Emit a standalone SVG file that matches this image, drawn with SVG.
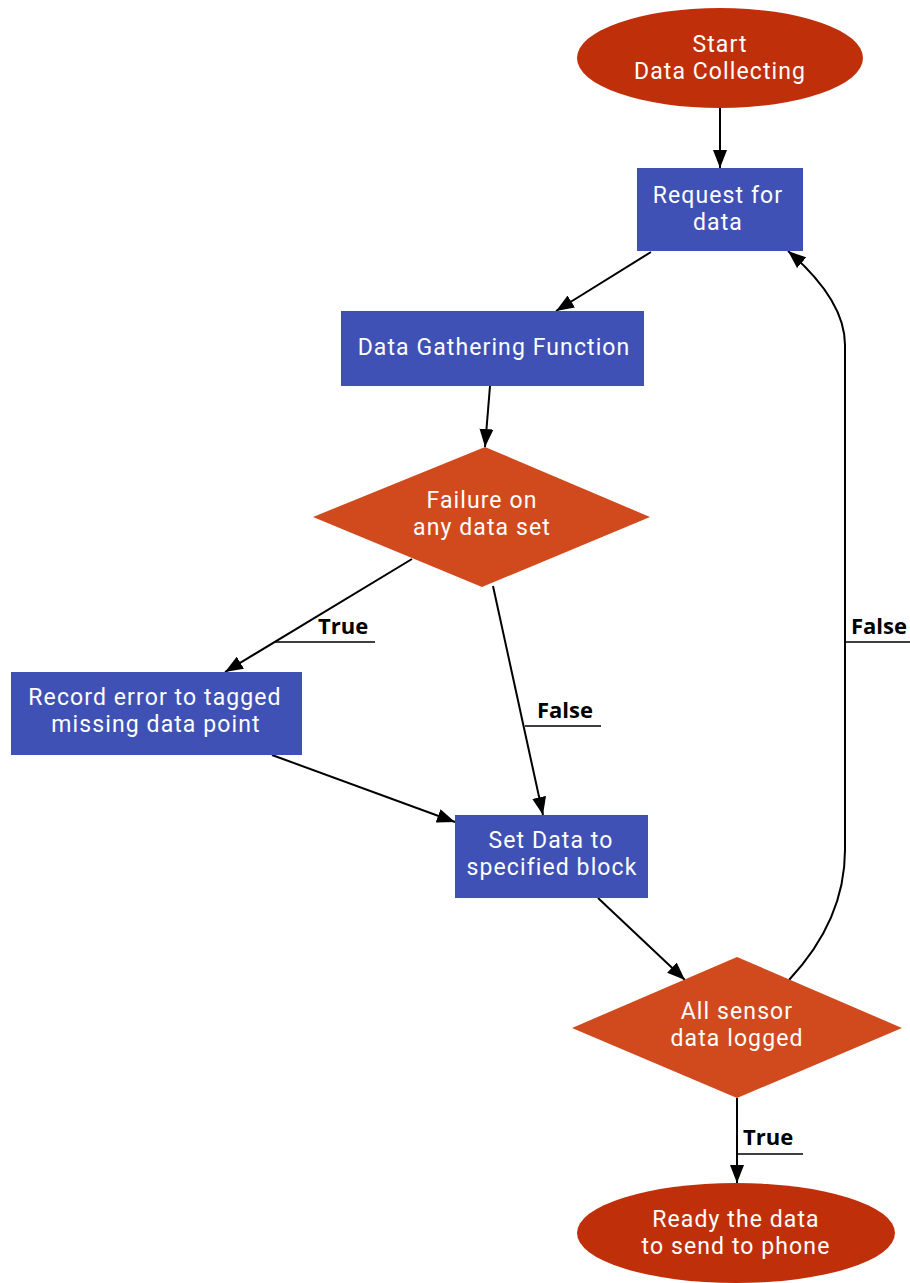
<svg xmlns="http://www.w3.org/2000/svg" width="910" height="1283" viewBox="0 0 910 1283">
<style>
.term{fill:#BF300A}
.dec{fill:#D14A1E}
.proc{fill:#3F51B5}
.t{font-family:Roboto,"Liberation Sans",sans-serif;font-size:23px;letter-spacing:1.1px;fill:#fff;text-anchor:middle}
.lbl{font-family:"Open Sans","Noto Sans",sans-serif;font-size:22px;font-weight:bold;fill:#000}
.e{fill:none;stroke:#000;stroke-width:2}
.u{stroke:#000;stroke-width:1.5}
</style>
<defs>
<marker id="ah" viewBox="0 0 18 14" refX="18" refY="7" markerWidth="18" markerHeight="14" markerUnits="userSpaceOnUse" orient="auto">
<path d="M0,0 L18,7 L0,14 z" fill="#000"/>
</marker>
</defs>
<rect width="910" height="1283" fill="#fff"/>
<g id="connectors">
<line class="e" x1="720" y1="108" x2="720" y2="168" marker-end="url(#ah)"/>
<line class="e" x1="651" y1="252" x2="556" y2="311" marker-end="url(#ah)"/>
<line class="e" x1="490" y1="386" x2="485" y2="447" marker-end="url(#ah)"/>
<line class="e" x1="412" y1="559" x2="225" y2="672" marker-end="url(#ah)"/>
<line class="e" x1="493" y1="586" x2="543" y2="815" marker-end="url(#ah)"/>
<line class="e" x1="272" y1="755" x2="455" y2="822" marker-end="url(#ah)"/>
<line class="e" x1="598" y1="898" x2="685" y2="980" marker-end="url(#ah)"/>
<line class="e" x1="737" y1="1098" x2="737" y2="1183" marker-end="url(#ah)"/>
<path class="e" d="M789,980 Q845,920 845,850 L845,345 Q845,300 788,251" marker-end="url(#ah)"/>
<line class="u" x1="275" y1="642" x2="375" y2="642"/>
<text class="lbl" x="318" y="634">True</text>
<line class="u" x1="525" y1="726" x2="601" y2="726"/>
<text class="lbl" x="537" y="718">False</text>
<line class="u" x1="845" y1="642" x2="910" y2="642"/>
<text class="lbl" x="851" y="634">False</text>
<line class="u" x1="737" y1="1154" x2="803" y2="1154"/>
<text class="lbl" x="743" y="1145">True</text>
</g>
<g id="start">
<ellipse class="term" cx="720" cy="58" rx="143" ry="50"/>
<text class="t" x="720" y="52">Start<tspan x="720" dy="27">Data Collecting</tspan></text>
</g>
<g id="request">
<rect class="proc" x="637" y="168" width="166" height="83"/>
<text class="t" x="718" y="203">Request for<tspan x="718" dy="27">data</tspan></text>
</g>
<g id="gather">
<rect class="proc" x="341" y="311" width="303" height="75"/>
<text class="t" x="494" y="355">Data Gathering Function</text>
</g>
<g id="failure">
<polygon class="dec" points="485,447 650,517 482,587 313,517"/>
<text class="t" x="482" y="508">Failure on<tspan x="482" dy="27">any data set</tspan></text>
</g>
<g id="record">
<rect class="proc" x="11" y="672" width="291" height="83"/>
<text class="t" x="155" y="705">Record error to tagged<tspan x="156" dy="27">missing data point</tspan></text>
</g>
<g id="setdata">
<rect class="proc" x="455" y="815" width="193" height="83"/>
<text class="t" x="551" y="848">Set Data to<tspan x="552" dy="27">specified block</tspan></text>
</g>
<g id="allsensor">
<polygon class="dec" points="737,957 902,1028 737,1098 572,1028"/>
<text class="t" x="737" y="1019">All sensor<tspan x="737" dy="27">data logged</tspan></text>
</g>
<g id="ready">
<ellipse class="term" cx="736" cy="1233" rx="159" ry="50"/>
<text class="t" x="736" y="1227">Ready the data<tspan x="736" dy="27">to send to phone</tspan></text>
</g>
</svg>
